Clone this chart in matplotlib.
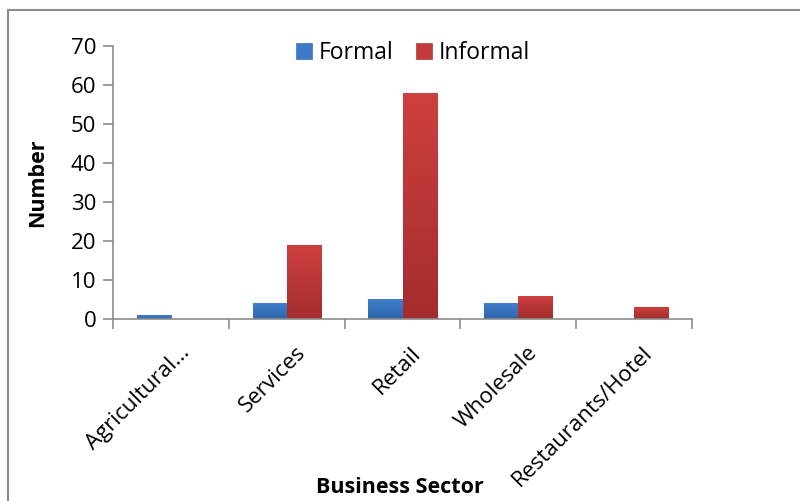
import numpy as np
import matplotlib.pyplot as plt
from matplotlib.patches import Rectangle
from matplotlib.colors import LinearSegmentedColormap

sectors = ['Agricultural...', 'Services', 'Retail', 'Wholesale', 'Restaurants/Hotel']
formal = [1, 4, 5, 4, 0]
informal = [0, 19, 58, 6, 3]

plt.rcParams['font.family'] = ['Open Sans', 'DejaVu Sans']

fig = plt.figure(figsize=(8, 5.01), dpi=100)
ax = fig.add_axes([0.14125, 0.3633, 0.72375, 0.5449])

# outer chart border
fig.patches.append(Rectangle((0.01, -0.5), 1.5, 1.48, transform=fig.transFigure,
                             fill=False, edgecolor='#8c8c8c', lw=1.5))

x = np.arange(len(sectors))
w = 0.295
b1 = ax.bar(x - w / 2, formal, w, color='#3C7BC8', edgecolor='#3570b8', lw=0.5, label='Formal')
b2 = ax.bar(x + w / 2, informal, w, color='#C23B3B', edgecolor='#b03434', lw=0.5, label='Informal')

# vertical gradient in each bar
grad = np.linspace(1, 0, 64).reshape(-1, 1)
cm_blue = LinearSegmentedColormap.from_list('b', ['#2F64A8', '#4080CC'])
cm_red = LinearSegmentedColormap.from_list('r', ['#A42D2D', '#CE3F3F'])
for bars, cm in [(b1, cm_blue), (b2, cm_red)]:
    for bar in bars:
        h = bar.get_height()
        if h <= 0:
            continue
        x0 = bar.get_x()
        im = ax.imshow(grad, cmap=cm, aspect='auto', vmin=0, vmax=1,
                       extent=[x0, x0 + bar.get_width(), 0, h], zorder=bar.get_zorder())
        im.set_clip_path(bar)

ax.set_xlim(-0.5, len(sectors) - 0.5)
ax.set_ylim(0, 70)
ax.set_yticks(range(0, 71, 10))
ax.set_xticks(np.arange(-0.5, len(sectors), 1))
ax.set_xticklabels([])
ax.tick_params(axis='x', length=7, color='#8c8c8c', width=1.2)
ax.tick_params(axis='y', length=7, color='#8c8c8c', width=1.2, labelsize=16, pad=5)

for s in ['top', 'right']:
    ax.spines[s].set_visible(False)
for s in ['left', 'bottom']:
    ax.spines[s].set_color('#8c8c8c')
    ax.spines[s].set_linewidth(1.2)
    ax.spines[s].set_zorder(5)

for i, name in enumerate(sectors):
    ax.text(i + 0.07, -6, name, rotation=45, ha='right', va='top',
            rotation_mode='anchor', fontsize=16)

ax.set_ylabel('Number', fontsize=15.5, fontweight='bold', labelpad=16)
fig.text(0.5, 0.026, 'Business Sector', ha='center', va='center', fontsize=15.5, fontweight='bold')

ax.legend(loc='upper center', bbox_to_anchor=(0.518, 1.095), ncol=2, frameon=False,
          fontsize=16.5, handlelength=0.7, handleheight=0.7, handletextpad=0.3, columnspacing=1.0)

fig.savefig('out.png', dpi=100)
